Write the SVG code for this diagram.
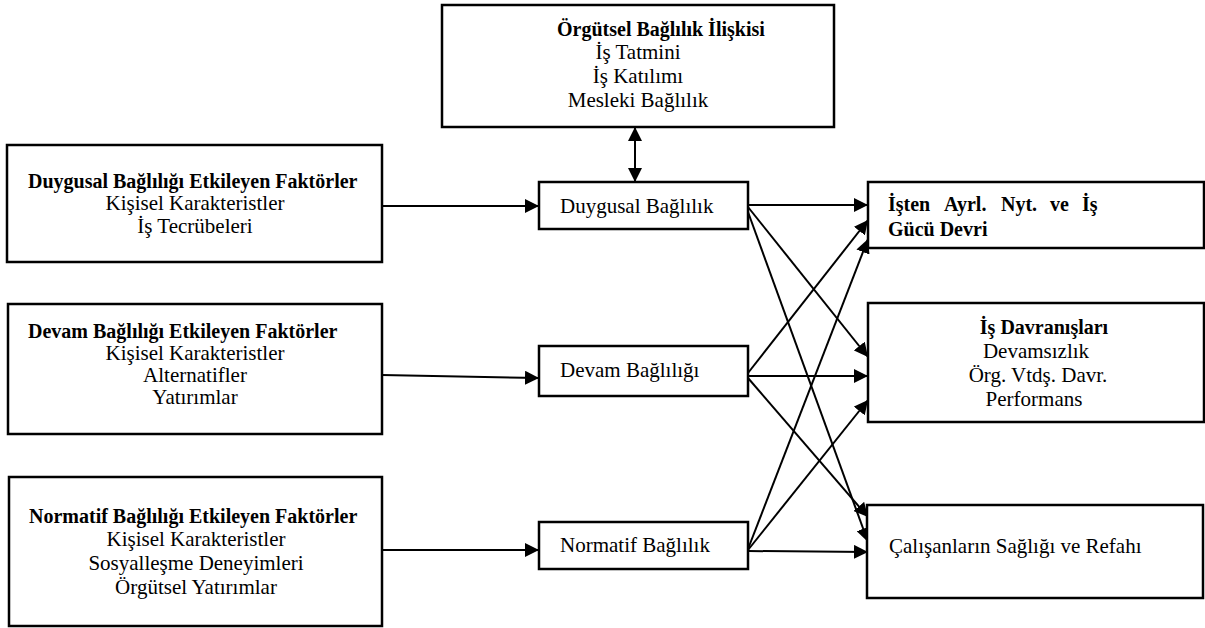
<svg xmlns="http://www.w3.org/2000/svg" width="1205" height="628" viewBox="0 0 1205 628">
<style>
.box{fill:#fff;stroke:#000;stroke-width:2.5}
.t{font-family:"Liberation Serif","Times New Roman",serif;font-size:21px;fill:#000}
.b{font-family:"Liberation Serif","Times New Roman",serif;font-size:20px;font-weight:bold;fill:#000}
.c{text-anchor:middle}
.ln{stroke:#000;stroke-width:2;fill:none;marker-end:url(#ah)}
</style>
<defs>
<marker id="ah" markerUnits="userSpaceOnUse" markerWidth="14" markerHeight="14" refX="14" refY="7" orient="auto-start-reverse">
<path d="M0,0 L14,7 L0,14 z" fill="#000"/>
</marker>
</defs>
<rect width="1205" height="628" fill="#fff"/>
<g id="connectors">
<line class="ln" x1="382" y1="206" x2="539" y2="206"/>
<line class="ln" x1="382" y1="375" x2="539" y2="378"/>
<line class="ln" x1="382" y1="550" x2="539" y2="550"/>
<line class="ln" x1="635" y1="127" x2="635" y2="182" style="marker-start:url(#ah)"/>
<line class="ln" x1="748" y1="205" x2="868" y2="205"/>
<line class="ln" x1="748" y1="207" x2="868" y2="357"/>
<line class="ln" x1="748" y1="212" x2="868" y2="542"/>
<line class="ln" x1="748" y1="373" x2="868" y2="220"/>
<line class="ln" x1="748" y1="376" x2="868" y2="376"/>
<line class="ln" x1="748" y1="378" x2="868" y2="517"/>
<line class="ln" x1="748" y1="549" x2="868" y2="239"/>
<line class="ln" x1="748" y1="550" x2="868" y2="400"/>
<line class="ln" x1="748" y1="551" x2="868" y2="552"/>
</g>
<g id="orgutsel">
<rect class="box" x="442" y="5" width="392" height="122"/>
<text class="b" x="557" y="36">Örgütsel Bağlılık İlişkisi</text>
<text class="t c" x="638" y="59">İş Tatmini</text>
<text class="t c" x="638" y="83">İş Katılımı</text>
<text class="t c" x="638" y="107">Mesleki Bağlılık</text>
</g>
<g id="duygusal-faktor">
<rect class="box" x="7" y="145" width="375" height="117"/>
<text class="b" x="28" y="188">Duygusal Bağlılığı Etkileyen Faktörler</text>
<text class="t c" x="195" y="210">Kişisel Karakteristler</text>
<text class="t c" x="195" y="233">İş Tecrübeleri</text>
</g>
<g id="devam-faktor">
<rect class="box" x="8" y="304" width="374" height="130"/>
<text class="b" x="28" y="338">Devam Bağlılığı Etkileyen Faktörler</text>
<text class="t c" x="195" y="360">Kişisel Karakteristler</text>
<text class="t c" x="195" y="382">Alternatifler</text>
<text class="t c" x="195" y="404">Yatırımlar</text>
</g>
<g id="normatif-faktor">
<rect class="box" x="9" y="477" width="373" height="149"/>
<text class="b" x="29" y="523">Normatif Bağlılığı Etkileyen Faktörler</text>
<text class="t c" x="196" y="546">Kişisel Karakteristler</text>
<text class="t c" x="196" y="570">Sosyalleşme Deneyimleri</text>
<text class="t c" x="196" y="594">Örgütsel Yatırımlar</text>
</g>
<g id="duygusal">
<rect class="box" x="539" y="182" width="209" height="47"/>
<text class="t" x="560" y="213">Duygusal Bağlılık</text>
</g>
<g id="devam">
<rect class="box" x="539" y="346" width="209" height="50"/>
<text class="t" x="560" y="377">Devam Bağlılığı</text>
</g>
<g id="normatif">
<rect class="box" x="539" y="522" width="209" height="47"/>
<text class="t" x="560" y="552">Normatif Bağlılık</text>
</g>
<g id="isten">
<rect class="box" x="868" y="182" width="336" height="66"/>
<text class="b"><tspan x="888" y="211">İşten</tspan><tspan x="944" y="211">Ayrl.</tspan><tspan x="1001" y="211">Nyt.</tspan><tspan x="1050" y="211">ve</tspan><tspan x="1082" y="211">İş</tspan></text>
<text class="b" x="888" y="236">Gücü Devri</text>
</g>
<g id="is-davranislari">
<rect class="box" x="868" y="303" width="336" height="119"/>
<text class="b c" x="1044" y="334">İş Davranışları</text>
<text class="t c" x="1036" y="358">Devamsızlık</text>
<text class="t c" x="1038" y="382">Örg. Vtdş. Davr.</text>
<text class="t c" x="1034" y="406">Performans</text>
</g>
<g id="calisanlar">
<rect class="box" x="867" y="505" width="336" height="93"/>
<text class="t" x="889" y="553">Çalışanların Sağlığı ve Refahı</text>
</g>
</svg>
